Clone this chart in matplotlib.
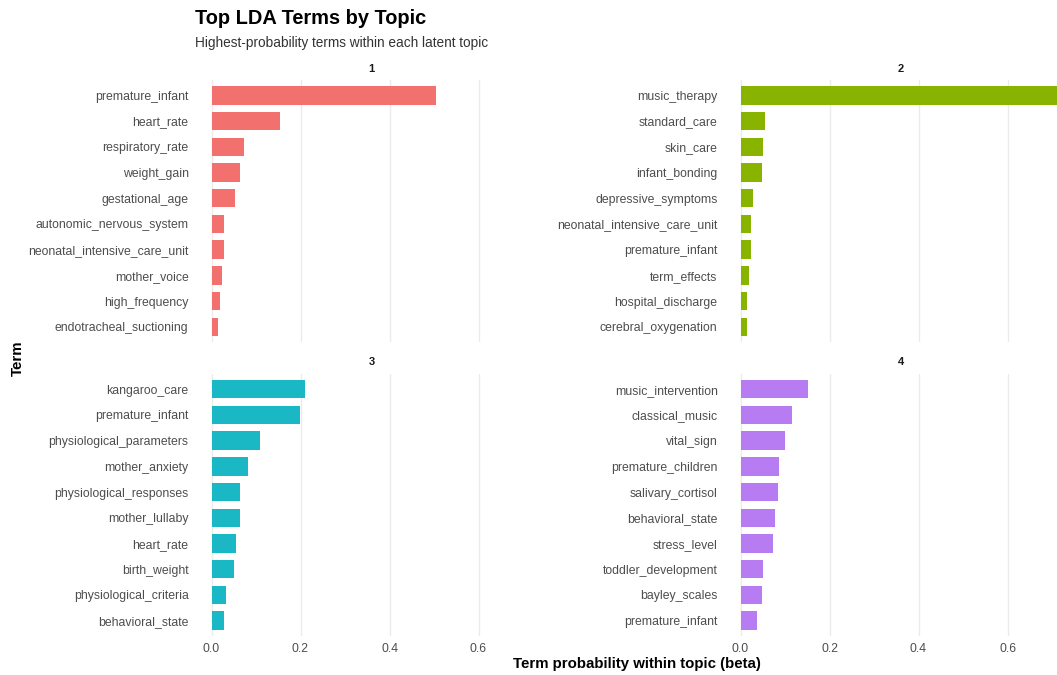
import numpy as np
import matplotlib
matplotlib.use("Agg")
import matplotlib.pyplot as plt

plt.rcParams['font.family'] = ['Liberation Sans', 'DejaVu Sans']

# top terms per topic, highest first
terms_1 = ["premature_infant", "heart_rate", "respiratory_rate", "weight_gain",
           "gestational_age", "autonomic_nervous_system", "neonatal_intensive_care_unit",
           "mother_voice", "high_frequency", "endotracheal_suctioning"]
beta_1 = [0.504, 0.154, 0.072, 0.064, 0.052, 0.028, 0.027, 0.023, 0.018, 0.015]

terms_2 = ["music_therapy", "standard_care", "skin_care", "infant_bonding",
           "depressive_symptoms", "neonatal_intensive_care_unit", "premature_infant",
           "term_effects", "hospital_discharge", "cerebral_oxygenation"]
beta_2 = [0.720, 0.056, 0.050, 0.048, 0.028, 0.024, 0.023, 0.020, 0.015, 0.014]

terms_3 = ["kangaroo_care", "premature_infant", "physiological_parameters",
           "mother_anxiety", "physiological_responses", "mother_lullaby", "heart_rate",
           "birth_weight", "physiological_criteria", "behavioral_state"]
beta_3 = [0.210, 0.198, 0.109, 0.082, 0.064, 0.063, 0.054, 0.051, 0.032, 0.029]

terms_4 = ["music_intervention", "classical_music", "vital_sign", "premature_children",
           "salivary_cortisol", "behavioral_state", "stress_level", "toddler_development",
           "bayley_scales", "premature_infant"]
beta_4 = [0.151, 0.115, 0.101, 0.087, 0.085, 0.077, 0.072, 0.050, 0.049, 0.036]

topics = ["1", "2", "3", "4"]
colors = ["#F2706E", "#88B400", "#1AB8C4", "#B87CF2"]

W, H = 1057, 675
fig = plt.figure(figsize=(W / 100, H / 100), dpi=100)

xmax = max(beta_1 + beta_2 + beta_3 + beta_4)
xlim = (-0.05 * xmax, 1.05 * xmax)
px_per_unit = 445.0
pw = (xlim[1] - xlim[0]) * px_per_unit
lefts = [211.5 + xlim[0] * px_per_unit, 740.5 + xlim[0] * px_per_unit]
tops = [79.9, 373.8]
ph = 262.3

data = [(terms_1, beta_1), (terms_2, beta_2), (terms_3, beta_3), (terms_4, beta_4)]
txt_col = "#4D4D4D"

for i, (terms, beta) in enumerate(data):
    r, c = divmod(i, 2)
    ax = fig.add_axes([lefts[c] / W, 1 - (tops[r] + ph) / H, pw / W, ph / H])
    y = np.arange(len(terms))
    ax.barh(y, beta, height=0.72, color=colors[i], zorder=3)
    ax.set_xlim(*xlim)
    ax.set_ylim(len(terms) - 0.4, -0.6)
    ax.set_yticks(y)
    ax.set_yticklabels(terms, fontsize=8.8, color=txt_col)
    ax.set_xticks([0, 0.2, 0.4, 0.6])
    if r == 1:
        ax.set_xticklabels(["0.0", "0.2", "0.4", "0.6"], fontsize=8.8, color=txt_col)
    else:
        ax.set_xticklabels([])
    ax.tick_params(length=0, pad=5)
    ax.grid(axis="x", color="#EBEBEB", linewidth=1.0, zorder=0)
    for s in ax.spines.values():
        s.set_visible(False)
    ax.set_title(topics[i], fontsize=8, fontweight="bold", pad=6, color="#1A1A1A")

fig.text(195 / W, 1 - 19 / H, "Top LDA Terms by Topic", fontsize=14.4,
         fontweight="bold", va="center", ha="left")
fig.text(195 / W, 1 - 42.5 / H, "Highest-probability terms within each latent topic",
         fontsize=9.8, color="#333333", va="center", ha="left")
fig.text(637 / W, 1 - 664 / H, "Term probability within topic (beta)", fontsize=10.8,
         fontweight="bold", va="center", ha="center")
fig.text(18 / W, 1 - 358 / H, "Term", fontsize=10.8, fontweight="bold",
         rotation=90, va="center", ha="center")

fig.savefig("out.png", dpi=100)
